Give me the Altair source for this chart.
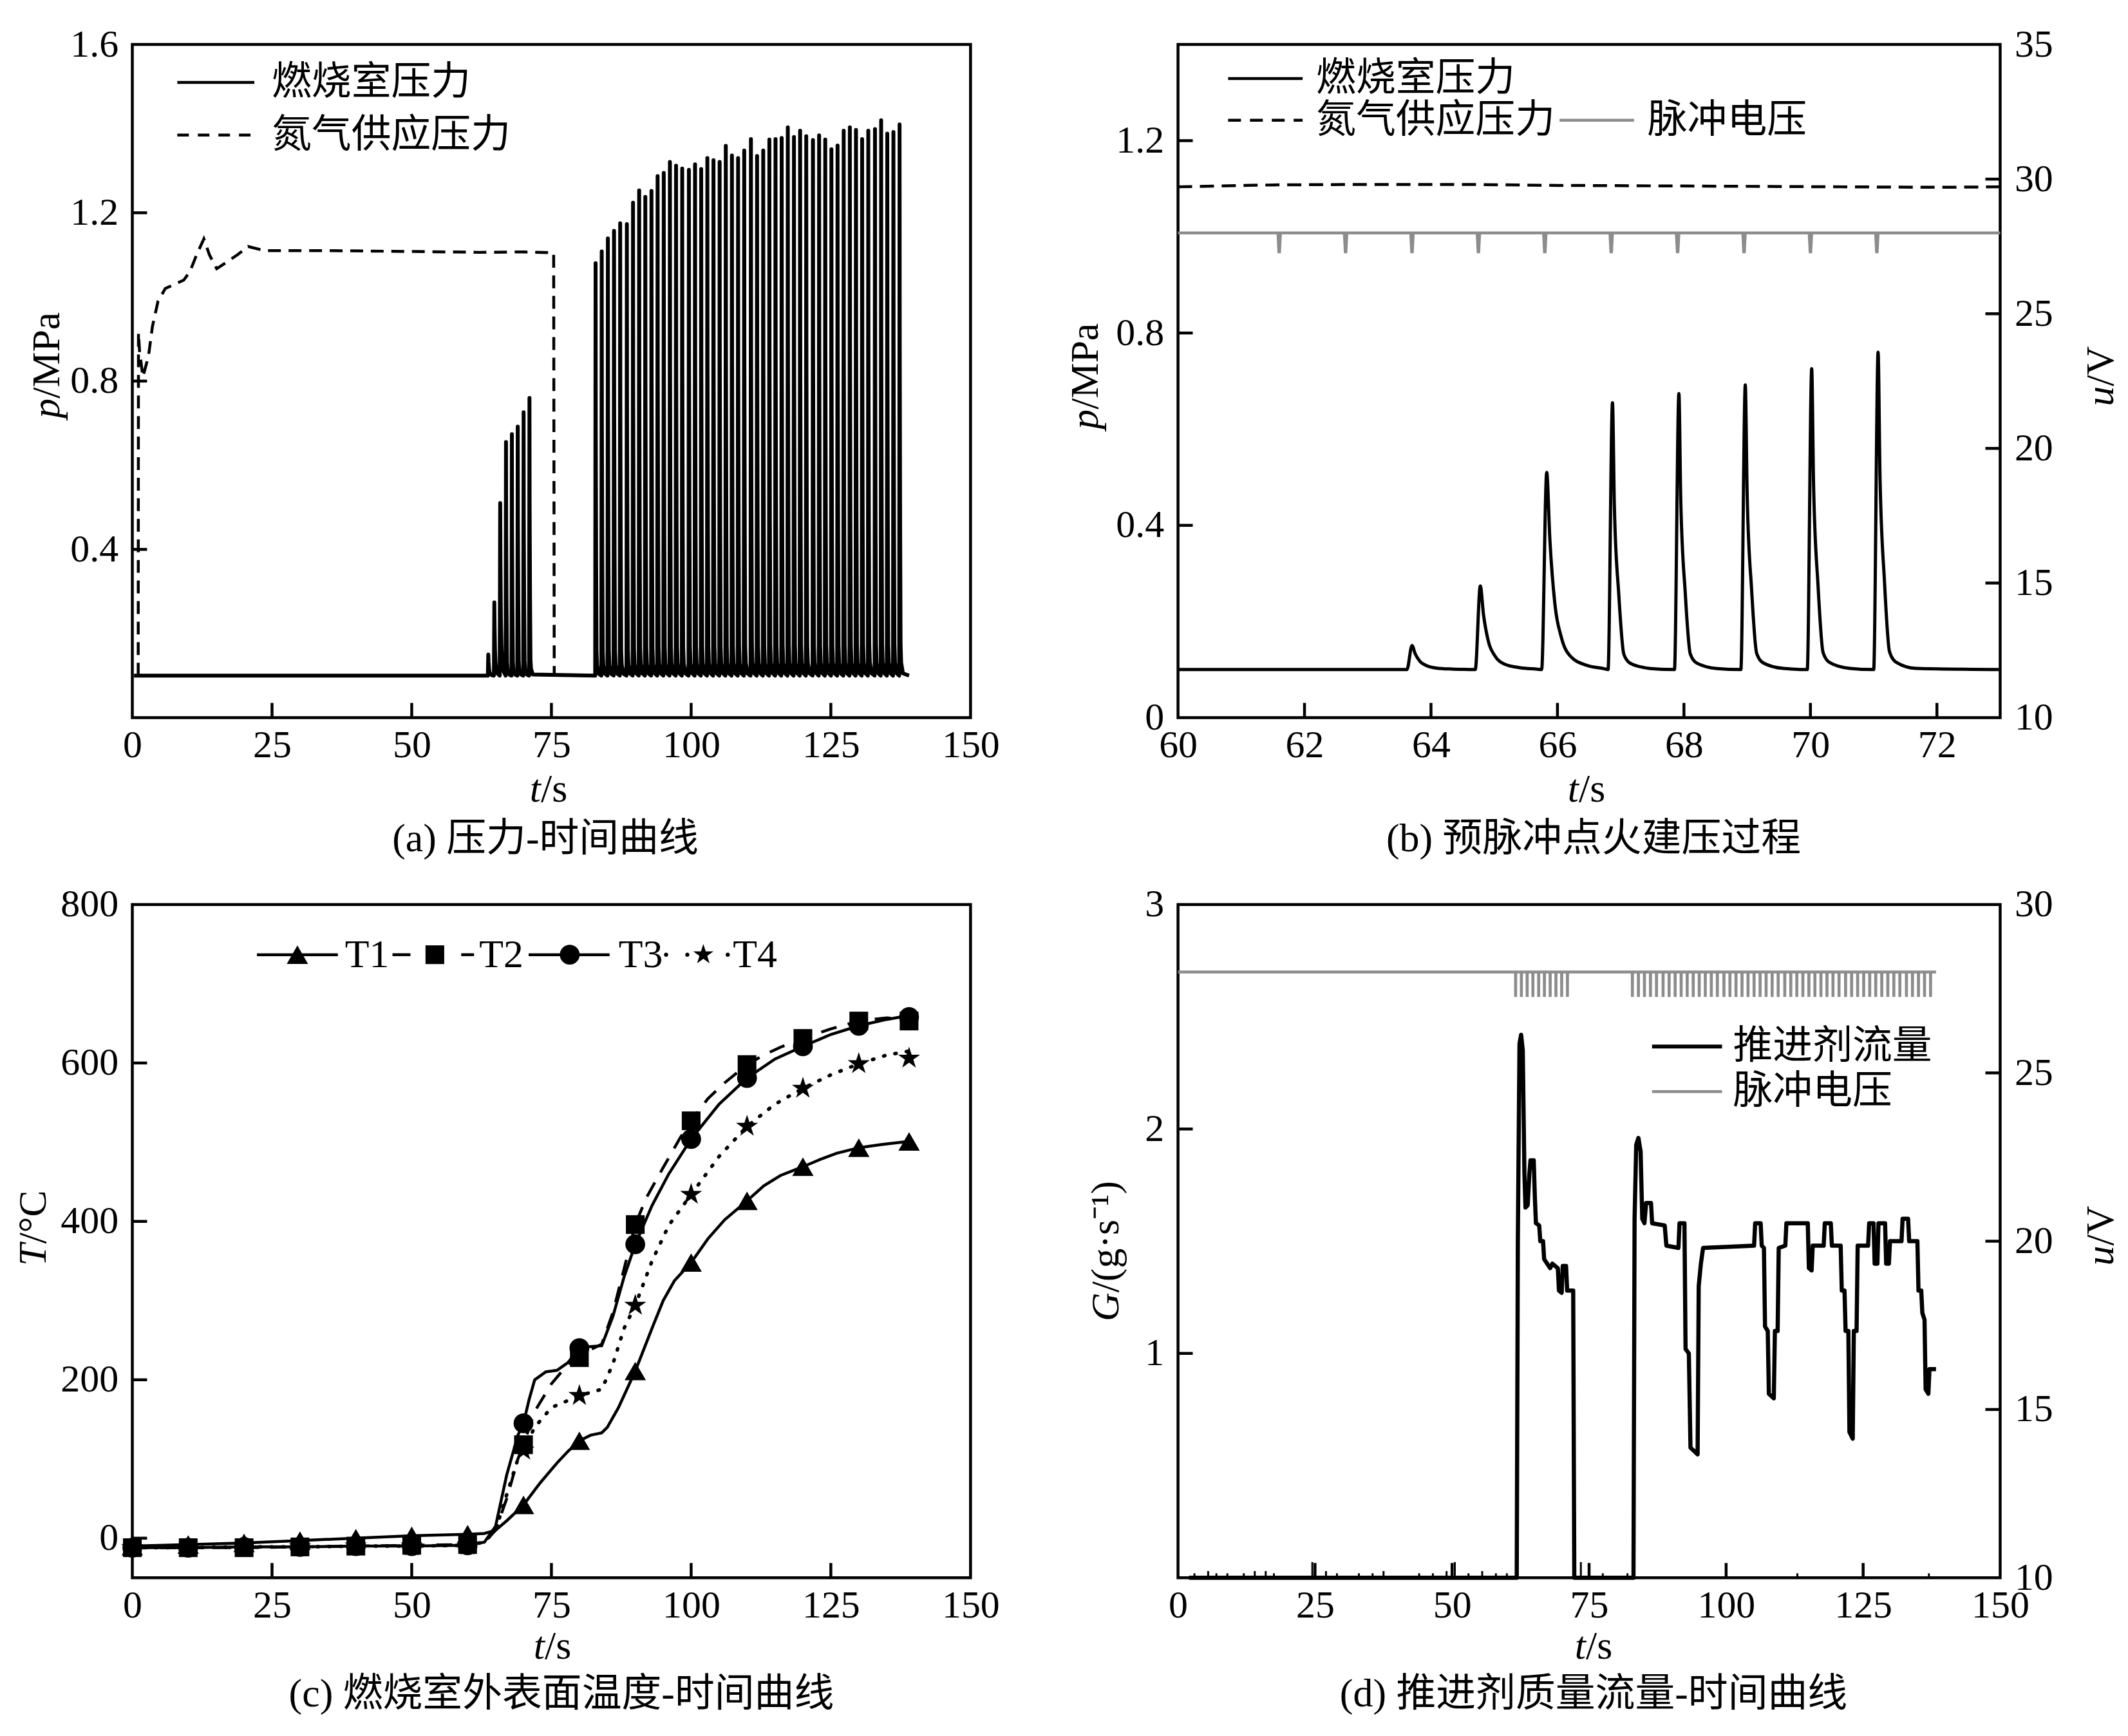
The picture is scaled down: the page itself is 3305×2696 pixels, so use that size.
import altair as alt
import pandas as pd

FONT = "Liberation Serif, Noto Sans CJK SC"
TICK_FS = 60
TXT_FS = 62
LW = 4.5
GRAY = "#8c8c8c"
TICK_LEN = 23
STAR = ("M0,-1L0.2245,-0.309L0.9511,-0.309L0.3633,0.118L0.5878,0.809L0,0.382"
        "L-0.5878,0.809L-0.3633,0.118L-0.9511,-0.309L-0.2245,-0.309Z")
WA, WB, H = 1305, 1280, 1048
DUMMY = pd.DataFrame({"k": [0]})

# ---------------- data ----------------
# (a) nitrogen supply pressure
n2a_t = [1.05, 1.1, 1.3, 1.9, 2.9, 3.6, 4.6, 5.9, 9.2, 10.3, 11.5, 12.8, 13.8, 15.1,
         18.8, 20.7, 23.7, 35, 50, 62, 70, 75.4, 75.5]
n2a_p = [0.1, 0.915, 0.87, 0.81, 0.86, 0.93, 0.99, 1.02, 1.04, 1.06, 1.10, 1.138, 1.10,
         1.067, 1.10, 1.12, 1.11, 1.11, 1.108, 1.106, 1.107, 1.105, 0.1]
base_p = 0.1
# pre-ignition pulses (pressure peaks)
pre_t = [63.7, 64.78, 65.83, 66.87, 67.92, 68.97, 70.02, 71.07]
pre_peak = [0.15, 0.274, 0.51, 0.655, 0.674, 0.692, 0.726, 0.76]
pre_kind = ["slow", "slow", "slow", "fast", "fast", "fast", "fast", "fast"]
# main firing pulses
main_t = [82.9, 84.0, 85.1, 86.2, 87.3, 88.5, 89.6, 90.7, 91.8, 92.9,
          94.0, 95.1, 96.2, 97.3, 98.4, 99.6, 100.7, 101.8, 102.9, 104.0,
          105.1, 106.2, 107.3, 108.4, 109.5, 110.7, 111.8, 112.9, 114.0, 115.1,
          116.2, 117.3, 118.4, 119.5, 120.6, 121.8, 122.9, 124.0, 125.1, 126.2,
          127.3, 128.4, 129.5, 130.6, 131.7, 132.9, 134.0, 135.1, 136.2, 137.3]
main_peak = [1.08, 1.108, 1.139, 1.157, 1.175, 1.173, 1.224, 1.253, 1.238, 1.252,
             1.287, 1.295, 1.321, 1.312, 1.305, 1.302, 1.315, 1.304, 1.33, 1.325,
             1.321, 1.359, 1.336, 1.33, 1.348, 1.375, 1.335, 1.348, 1.374, 1.375,
             1.378, 1.403, 1.38, 1.395, 1.382, 1.373, 1.384, 1.374, 1.351, 1.36,
             1.395, 1.403, 1.397, 1.375, 1.395, 1.399, 1.42, 1.388, 1.392, 1.41]
main_kind = ["fast"] * len(main_t)
# pulse shape: time offset (s) and fraction of peak rise
slow_dt = [-0.08, 0.0, 0.05, 0.13, 0.23, 0.38, 0.63, 0.9]
slow_fr = [0.0, 1.0, 0.66, 0.33, 0.165, 0.066, 0.022, 0.005]
fast_dt = [-0.07, 0.0, 0.03, 0.10, 0.18, 0.28, 0.6]
fast_fr = [0.0, 1.0, 0.61, 0.28, 0.057, 0.024, 0.004]
PROF = {"slow": (slow_dt, slow_fr), "fast": (fast_dt, fast_fr)}

# (b) nitrogen pressure and pulse voltage
n2b_t = [60, 61.5, 63, 64.5, 66, 67.5, 69, 70.5, 72, 73]
n2b_p = [1.104, 1.108, 1.109, 1.109, 1.107, 1.106, 1.105, 1.104, 1.103, 1.104]
volt_pre_t = [61.6, 62.65, 63.7, 64.75, 65.8, 66.85, 67.9, 68.95, 70.0, 71.05]
volt_base = 28.0
dip_dt = [-0.02, -0.005, 0.005, 0.02]
dip_u = [28.0, 27.3, 27.3, 28.0]

# (c) temperatures
T1_t = [0, 10, 20, 30, 40, 50, 60, 63, 65, 67, 70, 73, 76, 78, 80, 82, 84, 85, 87, 90, 93, 95,
        97, 100, 103, 106, 110, 113, 116, 120, 123, 126, 130, 134, 139]
T1_v = [-10, -8, -6, -3, 0, 3, 5, 6, 10, 22, 42, 70, 95, 110, 123, 130, 133, 140, 165, 211,
        265, 300, 325, 348, 378, 402, 426, 445, 458, 469, 478, 486, 493, 497, 501]
T2_t = [0, 10, 20, 30, 40, 50, 60, 63, 65, 67, 69, 70, 72, 75, 78, 80, 82, 84, 86, 88, 90, 92,
        95, 98, 100, 103, 106, 110, 113, 116, 120, 125, 130, 135, 139]
T2_v = [-12, -12, -12, -11, -10, -9, -8, -5, 10, 50, 100, 118, 160, 195, 220, 228, 238, 245,
        285, 340, 396, 430, 468, 505, 527, 555, 575, 598, 610, 620, 631, 643, 653, 657, 655]
T3_t = [0, 10, 20, 30, 40, 50, 60, 63, 65, 67, 69, 70, 71, 72, 74, 76, 78, 80, 82, 84, 86, 88,
        90, 93, 96, 100, 105, 110, 115, 120, 125, 130, 135, 139]
T3_v = [-12, -12, -11, -11, -10, -10, -9, -5, 15, 80, 130, 145, 175, 200, 210, 212, 222, 240,
        242, 243, 280, 330, 371, 420, 460, 504, 548, 581, 605, 621, 636, 647, 655, 660]
T4_t = [0, 10, 20, 30, 40, 50, 60, 63, 65, 67, 69, 70, 72, 75, 80, 84, 86, 88, 90, 93, 96, 100,
        105, 110, 115, 120, 125, 130, 135, 139]
T4_v = [-12, -12, -11, -11, -10, -10, -9, -5, 10, 55, 100, 111, 140, 165, 180, 188, 220, 265,
        294, 350, 395, 434, 482, 520, 548, 568, 585, 599, 610, 615]
mark_t = [0, 10, 20, 30, 40, 50, 60, 70, 80, 90, 100, 110, 120, 130, 139]
T1_m = [-10, -8, -6, -3, 0, 3, 5, 42, 123, 211, 348, 426, 469, 493, 501]
T2_m = [-12, -12, -12, -11, -10, -9, -8, 118, 228, 396, 527, 598, 631, 653, 653]
T3_m = [-12, -12, -11, -11, -10, -10, -9, 145, 240, 371, 504, 581, 621, 647, 658]
T4_m = [-12, -12, -11, -11, -10, -10, -9, 111, 180, 294, 434, 520, 568, 599, 606]

# (d) propellant mass flow
G_t = [2.0, 61.8, 62.0, 62.3, 62.6, 62.9, 63.2, 63.4, 63.8, 64.1, 64.3, 64.9, 65.1, 65.3, 65.9,
       66.1, 66.6, 66.8, 67.9, 68.3, 69.3, 69.5, 70.0, 70.2, 70.8, 71.0, 72.1, 72.3, 83.1, 83.3,
       83.6, 84.0, 84.4, 84.7, 85.1, 85.4, 86.3, 86.5, 88.8, 89.1, 91.3, 91.5, 92.4, 92.6, 93.2,
       93.5, 94.8, 95.0, 95.4, 95.8, 105.1, 105.3, 106.3, 106.5, 106.9, 107.1, 107.6, 107.8,
       108.7, 108.9, 109.4, 109.6, 110.8, 111.0, 114.9, 115.1, 115.6, 115.8, 117.8, 118.0,
       119.1, 119.3, 120.9, 121.1, 121.6, 121.8, 122.3, 122.5, 123.1, 123.3, 123.8, 124.0,
       125.9, 126.1, 126.9, 127.1, 127.6, 127.8, 129.0, 129.2, 129.7, 129.9, 132.0, 132.2,
       133.2, 133.4, 134.9, 135.1, 135.6, 135.8, 136.2, 136.4, 136.9, 137.1, 138.3]
G_v = [0.0, 0.0, 1.5, 2.38, 2.42, 2.35, 1.8, 1.65, 1.66, 1.8, 1.86, 1.86, 1.7, 1.58, 1.57,
       1.5, 1.5, 1.42, 1.38, 1.40, 1.38, 1.28, 1.27, 1.39, 1.39, 1.28, 1.28, 0.0, 0.0, 1.6,
       1.93, 1.96, 1.9, 1.6, 1.58, 1.67, 1.67, 1.58, 1.57, 1.48, 1.47, 1.58, 1.58, 1.02, 1.0,
       0.58, 0.55, 1.3, 1.4, 1.47, 1.48, 1.58, 1.58, 1.48, 1.47, 1.12, 1.1, 0.82,
       0.8, 1.1, 1.1, 1.47, 1.48, 1.58, 1.58, 1.38, 1.37, 1.48, 1.48, 1.58,
       1.58, 1.48, 1.48, 1.28, 1.28, 1.1, 1.1, 0.65, 0.62, 1.1, 1.1, 1.48,
       1.48, 1.58, 1.58, 1.4, 1.4, 1.58, 1.58, 1.4, 1.4, 1.5, 1.5, 1.6,
       1.6, 1.5, 1.5, 1.28, 1.28, 1.18, 1.15, 0.84, 0.82, 0.93, 0.93]
noise_t = [3.0, 5.5, 7.0, 9.0, 12.0, 14.0, 16.0, 17.5, 24.5, 27.0, 29.0, 33.0, 35.5, 37.5, 44.0,
           46.5, 49.0, 50.5, 53.0, 55.5, 58.0, 60.0, 73.5, 75.0, 77.5, 82.0, 100.0, 113.0, 137.0]
noise_h = [0.02, 0.03, 0.02, 0.02, 0.02, 0.03, 0.03, 0.02, 0.07, 0.03, 0.02, 0.02, 0.02, 0.03,
           0.02, 0.02, 0.03, 0.07, 0.02, 0.03, 0.02, 0.02, 0.07, 0.03, 0.02, 0.02, 0.02, 0.02, 0.02]

# axis label / tick values
XL_150 = [0, 25, 50, 75, 100, 125, 150]
XT_150 = [25, 50, 75, 100, 125]
YL_A = [0.4, 0.8, 1.2, 1.6]
YT_A = [0.4, 0.8, 1.2]
XL_B = [60, 62, 64, 66, 68, 70, 72]
XT_B = [62, 64, 66, 68, 70, 72]
YL_B = [0, 0.4, 0.8, 1.2]
YT_B = [0.4, 0.8, 1.2]
UL_B = [10, 15, 20, 25, 30, 35]
UT_B = [15, 20, 25, 30]
YL_C = [0, 200, 400, 600, 800]
YT_C = [0, 200, 400, 600]
YL_D = [1, 2, 3]
YT_D = [1, 2]
UL_D = [10, 15, 20, 25, 30]
UT_D = [15, 20, 25]


# ---------------- helpers ----------------
def pulse_train(t_from, t_to, base, times, peaks, kinds):
    ts, ps = [t_from], [base]
    for tc, pk, kd in zip(times, peaks, kinds):
        dts, frs = PROF[kd]
        for dt, fr in zip(dts, frs):
            ts.append(round(tc + dt, 3))
            ps.append(base + (pk - base) * fr)
    ts.append(t_to)
    ps.append(base)
    return pd.DataFrame({"t": ts, "p": ps})


def dip_train(t_from, t_to, base, times):
    ts, us = [t_from], [base]
    for tc in times:
        for dt, u in zip(dip_dt, dip_u):
            ts.append(round(tc + dt, 3))
            us.append(u)
    ts.append(t_to)
    us.append(base)
    return pd.DataFrame({"t": ts, "u": us})


LABEL_EXPR = "datum.value + ''"


def X(field, dom, labels):
    return alt.X(f"{field}:Q", scale=alt.Scale(domain=dom, nice=False, zero=False),
                 axis=alt.Axis(values=labels, title=None, domain=False, ticks=False, grid=False,
                               labelFont=FONT, labelFontSize=TICK_FS, labelColor="black",
                               labelPadding=14, labelFlush=False, labelOverlap=False,
                               labelExpr=LABEL_EXPR))


def Y(field, dom, labels, orient="left"):
    return alt.Y(f"{field}:Q", scale=alt.Scale(domain=dom, nice=False, zero=False),
                 axis=alt.Axis(values=labels, orient=orient, title=None, domain=False,
                               ticks=False, grid=False, labelFont=FONT,
                               labelFontSize=TICK_FS, labelColor="black", labelPadding=22,
                               labelFlush=False, labelOverlap=False, labelExpr=LABEL_EXPR))


def xticks(vals, xdom, xl, h):
    return alt.Chart(pd.DataFrame({"tv": vals})).mark_rule(
        color="black", strokeWidth=LW).encode(
        x=X("tv", xdom, xl), y=alt.value(h), y2=alt.value(h - TICK_LEN))


def yticks(vals, ydom, yl, x0, x1, orient="left"):
    return alt.Chart(pd.DataFrame({"tv": vals})).mark_rule(
        color="black", strokeWidth=LW).encode(
        y=Y("tv", ydom, yl, orient), x=alt.value(x0), x2=alt.value(x1))


def txt(text, x, y, align="center", angle=0, italic=False, size=TXT_FS):
    return alt.Chart(DUMMY).mark_text(
        text=text, align=align, baseline="middle", angle=angle, font=FONT,
        fontSize=size, fontStyle="italic" if italic else "normal", color="black"
    ).encode(x=alt.value(x), y=alt.value(y))


def seg(x1, x2, y, color="black", dash=None, width=LW):
    kw = dict(color=color, strokeWidth=width)
    if dash:
        kw["strokeDash"] = dash
    return alt.Chart(DUMMY).mark_rule(**kw).encode(
        x=alt.value(x1), x2=alt.value(x2), y=alt.value(y))


def sym(x, y, shape, size):
    return alt.Chart(DUMMY).mark_point(
        shape=shape, size=size, filled=True, color="black", opacity=1).encode(
        x=alt.value(x), y=alt.value(y))


def ytitle(first, rest, x, anchor):
    return [txt(first, x, anchor, align="right", angle=270, italic=True),
            txt(rest, x, anchor, align="left", angle=270)]


def xtitle(first, rest, anchor, y):
    return [txt(first, anchor, y, align="right", italic=True),
            txt(rest, anchor, y, align="left")]


# ---------------- panel (a) ----------------
dfa = pulse_train(0.3, 139.0, base_p, pre_t + main_t, pre_peak + main_peak, pre_kind + main_kind)
dfn2a = pd.DataFrame({"t": n2a_t, "p": n2a_p})
XA = ([0, 150], XL_150)
YA = ([0, 1.6], YL_A)

a_layers = [
    alt.Chart(dfn2a).mark_line(color="black", strokeWidth=LW, strokeDash=[20, 12]).encode(
        x=X("t", *XA), y=Y("p", *YA)),
    alt.Chart(dfa).mark_line(color="black", strokeWidth=6, strokeJoin="round").encode(
        x=X("t", *XA), y=Y("p", *YA)),
    xticks(XT_150, *XA, H),
    yticks(YT_A, *YA, 0, TICK_LEN),
    seg(70, 190, 59), txt("燃烧室压力", 217, 59, align="left"),
    seg(70, 190, 141, dash=[18, 14]), txt("氮气供应压力", 217, 141, align="left"),
    *ytitle("p", "/MPa", -133, 551),
    *xtitle("t", "/s", 636, H + 112),
    txt("(a) 压力-时间曲线", 643, H + 189),
]
chart_a = alt.layer(*a_layers).properties(width=WA, height=H)

# ---------------- panel (b) ----------------
dfb = pulse_train(60.0, 73.0, base_p, pre_t, pre_peak, pre_kind)
dfn2b = pd.DataFrame({"t": n2b_t, "p": n2b_p})
dfvb = dip_train(60.0, 73.0, volt_base, volt_pre_t)
XB = ([60, 73], XL_B)
YB = ([0, 1.4], YL_B)
UB = ([10, 35], UL_B)

b_left = alt.layer(
    alt.Chart(dfn2b).mark_line(color="black", strokeWidth=LW, strokeDash=[22, 12]).encode(
        x=X("t", *XB), y=Y("p", *YB)),
    alt.Chart(dfb).mark_line(color="black", strokeWidth=5, interpolate="monotone",
                             strokeJoin="round").encode(x=X("t", *XB), y=Y("p", *YB)),
    xticks(XT_B, *XB, H),
    yticks(YT_B, *YB, 0, TICK_LEN),
    seg(78, 194, 53), txt("燃烧室压力", 215, 53, align="left"),
    seg(78, 194, 118, dash=[20, 14]), txt("氮气供应压力", 215, 118, align="left"),
    seg(594, 710, 118, color=GRAY), txt("脉冲电压", 731, 118, align="left"),
    *ytitle("p", "/MPa", -144, 568),
    *ytitle("u", "/V", WB + 157, 532),
    *xtitle("t", "/s", 624, H + 112),
    txt("(b) 预脉冲点火建压过程", 647, H + 189),
)
b_right = alt.layer(
    alt.Chart(dfvb).mark_line(color=GRAY, strokeWidth=LW).encode(
        x=X("t", *XB), y=Y("u", *UB, orient="right")),
    yticks(UT_B, *UB, WB, WB - TICK_LEN, orient="right"),
)
chart_b = alt.layer(b_left, b_right).resolve_scale(y="independent").properties(width=WB, height=H)

# ---------------- panel (c) ----------------
XC = ([0, 150], XL_150)
YC = ([-50, 800], YL_C)


def tline(ts, vs, dash=None, cap="butt", width=LW):
    kw = dict(color="black", strokeWidth=width, strokeCap=cap)
    if dash:
        kw["strokeDash"] = dash
    return alt.Chart(pd.DataFrame({"t": ts, "T": vs})).mark_line(**kw).encode(
        x=X("t", *XC), y=Y("T", *YC))


def tmark(vs, shape, size):
    return alt.Chart(pd.DataFrame({"t": mark_t, "T": vs})).mark_point(
        shape=shape, size=size, filled=True, color="black", opacity=1).encode(
        x=X("t", *XC), y=Y("T", *YC))


c_layers = [
    tline(T4_t, T4_v, dash=[2, 16], cap="round", width=5.5),
    tline(T1_t, T1_v),
    tline(T2_t, T2_v, dash=[25, 18]),
    tline(T3_t, T3_v),
    tmark(T4_m, STAR, 1300),
    tmark(T1_m, "triangle-up", 1100),
    tmark(T2_m, "square", 850),
    tmark(T3_m, "circle", 950),
    xticks(XT_150, *XC, H),
    yticks(YT_C, *YC, 0, TICK_LEN),
    seg(194, 320, 78), sym(257, 78, "triangle-up", 1100), txt("T1", 331, 78, align="left"),
    seg(405, 433, 78), seg(512, 532, 78), sym(471, 78, "square", 850),
    txt("T2", 540, 78, align="left"),
    seg(617, 743, 78), sym(681, 78, "circle", 950), txt("T3", 757, 78, align="left"),
    sym(831, 78, "circle", 40), sym(864, 78, "circle", 40), sym(927, 78, "circle", 40),
    sym(889, 78, STAR, 1100), txt("T4", 935, 78, align="left"),
    *ytitle("T", "/°C", -154, 528),
    *xtitle("t", "/s", 642, H + 107),
    txt("(c) 燃烧室外表面温度-时间曲线", 668, H + 181),
]
chart_c = alt.layer(*c_layers).properties(width=WA, height=H)

# ---------------- panel (d) ----------------
XD = ([0, 150], XL_150)
YD = ([0, 3], YL_D)
UD = ([10, 30], UL_D)
dfg = pd.DataFrame({"t": G_t, "G": G_v})
dfnoise = pd.DataFrame({"t": noise_t, "G": noise_h, "z": [0.0] * len(noise_t)})
dfvd = dip_train(0.0, 138.3, volt_base, volt_pre_t + main_t)

d_left = alt.layer(
    alt.Chart(dfnoise).mark_rule(color="black", strokeWidth=3).encode(
        x=X("t", *XD), y=Y("G", *YD), y2="z:Q"),
    alt.Chart(dfg).mark_line(color="black", strokeWidth=6.5, strokeJoin="round").encode(
        x=X("t", *XD), y=Y("G", *YD)),
    xticks(XT_150, *XD, H),
    yticks(YT_D, *YD, 0, TICK_LEN),
    seg(738, 847, 221, width=6), txt("推进剂流量", 864, 221, align="left"),
    seg(738, 847, 291, color=GRAY), txt("脉冲电压", 864, 291, align="left"),
    *ytitle("G", "/(g·s⁻¹)", -112, 604),
    *ytitle("u", "/V", WB + 157, 531),
    *xtitle("t", "/s", 635, H + 107),
    txt("(d) 推进剂质量流量-时间曲线", 647, H + 181),
)
d_right = alt.layer(
    alt.Chart(dfvd).mark_line(color=GRAY, strokeWidth=LW).encode(
        x=X("t", *XD), y=Y("u", *UD, orient="right")),
    yticks(UT_D, *UD, WB, WB - TICK_LEN, orient="right"),
)
chart_d = alt.layer(d_left, d_right).resolve_scale(y="independent").properties(width=WB, height=H)

chart = alt.concat(
    chart_a, chart_b, chart_c, chart_d, columns=2,
    spacing={"row": 291, "column": 323}, bounds="flush",
).properties(
    padding={"left": 10, "top": 25, "right": 0, "bottom": 0},
    background="white",
).configure_view(stroke="black", strokeWidth=LW)

chart.save("out.html", embed_options={"renderer": "svg", "actions": False})
